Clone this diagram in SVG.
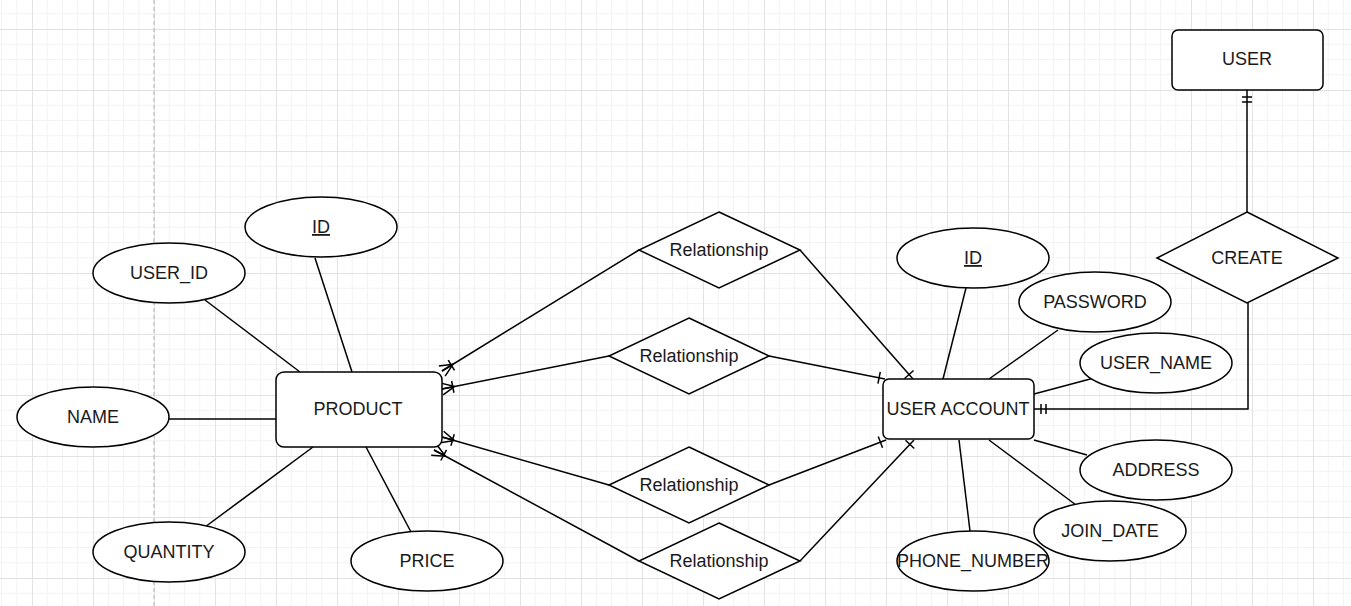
<svg xmlns="http://www.w3.org/2000/svg" width="1351" height="606" viewBox="0 0 1351 606">
<defs>
<pattern id="grid" x="32" y="29" width="61" height="61" patternUnits="userSpaceOnUse">
<path d="M15.25 0V61M30.5 0V61M45.75 0V61M0 15.25H61M0 30.5H61M0 45.75H61" stroke="#f2f2f2" stroke-width="1" fill="none"/>
<path d="M0.5 0V61M0 0.5H61" stroke="#e2e2e2" stroke-width="1" fill="none"/>
</pattern>
<marker id="many" viewBox="-16 -8 18 16" refX="0" refY="0" markerWidth="18" markerHeight="16" markerUnits="userSpaceOnUse" orient="auto" overflow="visible">
<path d="M-13 0L0 -6M-13 0L0 0M-13 0L0 6M-11 -6L-11 6" fill="none" stroke="#000" stroke-width="1.5"/>
</marker>
<marker id="one" viewBox="-16 -8 18 16" refX="0" refY="0" markerWidth="18" markerHeight="16" markerUnits="userSpaceOnUse" orient="auto" overflow="visible">
<path d="M-6 -6L-6 6" fill="none" stroke="#000" stroke-width="1.5"/>
</marker>
<marker id="mand" viewBox="-16 -8 18 16" refX="0" refY="0" markerWidth="18" markerHeight="16" markerUnits="userSpaceOnUse" orient="auto" overflow="visible">
<path d="M-7 -5L-7 5M-12 -5L-12 5" fill="none" stroke="#000" stroke-width="1.5"/>
</marker>
</defs>
<style>
.shape{fill:#fff;stroke:#000;stroke-width:1.5}
.lbl{font-family:"Liberation Sans",Arial,sans-serif;font-size:18px;fill:#1a1a1a;text-anchor:middle}
.u{text-decoration:underline}
.ln{fill:none;stroke:#000;stroke-width:1.5}
</style>
<rect width="1351" height="606" fill="#fff"/>
<rect width="1351" height="606" fill="url(#grid)"/>
<line x1="154" y1="0" x2="154" y2="606" stroke="#c8c8c8" stroke-width="1.5" stroke-dasharray="4,3"/>

<g id="connectors">
<path class="ln" d="M205 300L300 372"/>
<path class="ln" d="M315 258L352 372"/>
<path class="ln" d="M169 419L276 419"/>
<path class="ln" d="M205 527L313 447"/>
<path class="ln" d="M411 532L366 447"/>
<path class="ln" d="M966 288L943 379"/>
<path class="ln" d="M1058 330L989 379"/>
<path class="ln" d="M1094 378L1034 394"/>
<path class="ln" d="M1087 455L1034 440"/>
<path class="ln" d="M1076 505L989 440"/>
<path class="ln" d="M970 531L959 440"/>
<path class="ln" d="M639 250L442 371" marker-end="url(#many)"/>
<path class="ln" d="M800 250L913 379" marker-end="url(#one)"/>
<path class="ln" d="M609 356L442 389" marker-end="url(#many)"/>
<path class="ln" d="M769 356L885 379" marker-end="url(#one)"/>
<path class="ln" d="M609 485L442 437" marker-end="url(#many)"/>
<path class="ln" d="M769 485L886 440" marker-end="url(#one)"/>
<path class="ln" d="M639 561L434 450" marker-end="url(#many)"/>
<path class="ln" d="M800 561L914 440" marker-end="url(#one)"/>
<path class="ln" d="M1247 212L1247 90" marker-end="url(#mand)"/>
<path class="ln" d="M1248 303L1248 409L1034 409" marker-end="url(#mand)"/>
</g>

<g id="user">
<rect class="shape" x="1172" y="30" width="151" height="60" rx="6"/>
<text class="lbl" x="1247" y="65">USER</text>
</g>
<g id="create">
<path class="shape" d="M1247 212L1338 258L1247 303L1157 258Z"/>
<text class="lbl" x="1247" y="264">CREATE</text>
</g>
<g id="user_account">
<rect class="shape" x="883" y="379" width="151" height="60" rx="6"/>
<text class="lbl" x="958" y="415">USER ACCOUNT</text>
</g>
<g id="product">
<rect class="shape" x="276" y="372" width="166" height="75" rx="8"/>
<text class="lbl" x="358" y="415">PRODUCT</text>
</g>

<g id="rel1">
<path class="shape" d="M719 212L800 250L719 288L639 250Z"/>
<text class="lbl" x="719" y="256">Relationship</text>
</g>
<g id="rel2">
<path class="shape" d="M689 318L769 356L689 394L609 356Z"/>
<text class="lbl" x="689" y="362">Relationship</text>
</g>
<g id="rel3">
<path class="shape" d="M689 447L769 485L689 523L609 485Z"/>
<text class="lbl" x="689" y="491">Relationship</text>
</g>
<g id="rel4">
<path class="shape" d="M719 523L800 561L719 599L639 561Z"/>
<text class="lbl" x="719" y="567">Relationship</text>
</g>

<g id="product_id">
<ellipse class="shape" cx="321" cy="227" rx="76" ry="30"/>
<text class="lbl u" x="321" y="233">ID</text>
</g>
<g id="user_id">
<ellipse class="shape" cx="169" cy="273" rx="76" ry="30"/>
<text class="lbl" x="169" y="279">USER_ID</text>
</g>
<g id="name">
<ellipse class="shape" cx="93" cy="417" rx="76" ry="30"/>
<text class="lbl" x="93" y="423">NAME</text>
</g>
<g id="quantity">
<ellipse class="shape" cx="169" cy="552" rx="76" ry="30"/>
<text class="lbl" x="169" y="558">QUANTITY</text>
</g>
<g id="price">
<ellipse class="shape" cx="427" cy="561" rx="76" ry="30"/>
<text class="lbl" x="427" y="567">PRICE</text>
</g>
<g id="account_id">
<ellipse class="shape" cx="973" cy="258" rx="76" ry="30"/>
<text class="lbl u" x="973" y="264">ID</text>
</g>
<g id="password">
<ellipse class="shape" cx="1095" cy="302" rx="76" ry="30"/>
<text class="lbl" x="1095" y="308">PASSWORD</text>
</g>
<g id="user_name">
<ellipse class="shape" cx="1156" cy="363" rx="76" ry="30"/>
<text class="lbl" x="1156" y="369">USER_NAME</text>
</g>
<g id="address">
<ellipse class="shape" cx="1156" cy="470" rx="76" ry="30"/>
<text class="lbl" x="1156" y="476">ADDRESS</text>
</g>
<g id="join_date">
<ellipse class="shape" cx="1110" cy="531" rx="76" ry="30"/>
<text class="lbl" x="1110" y="537">JOIN_DATE</text>
</g>
<g id="phone_number">
<ellipse class="shape" cx="973" cy="561" rx="76" ry="30"/>
<text class="lbl" x="973" y="567">PHONE_NUMBER</text>
</g>
</svg>
